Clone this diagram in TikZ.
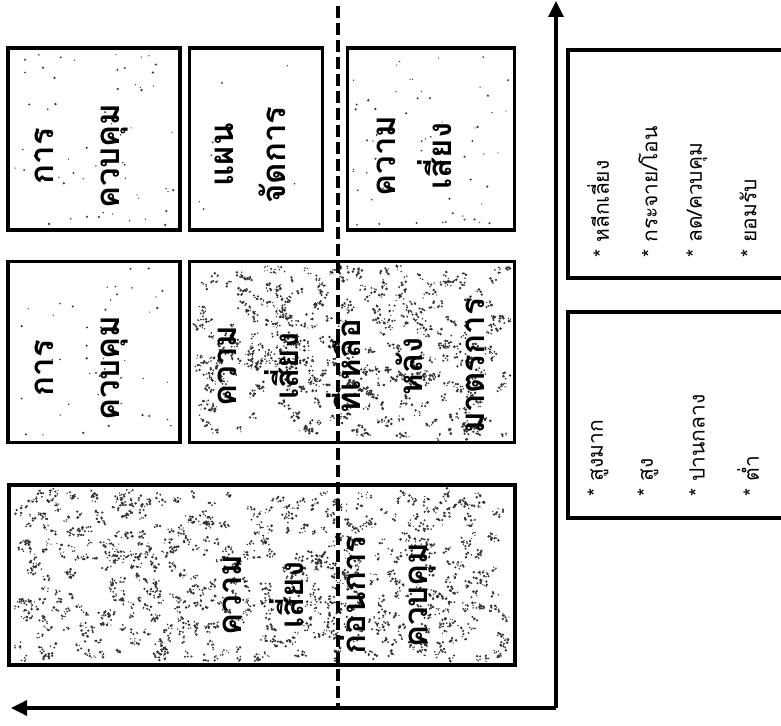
\documentclass[tikz,border=0pt]{standalone}
\usepackage{fontspec}
\newfontfamily\thai[Script=Thai]{Loma}
\usetikzlibrary{arrows.meta}
\begin{document}
\begin{tikzpicture}[x=1pt,y=-1pt,
  box/.style={draw, line width=3.4pt, inner sep=0pt},
  bigtext/.style={rotate=90, align=center, inner sep=0pt,
    font=\thai\bfseries\fontsize{33}{62}\selectfont},
  listtext/.style={rotate=90, anchor=west, inner sep=0pt,
    font=\thai\fontsize{21}{24}\selectfont},
  axis/.style={line width=3.2pt, -{Triangle[length=16pt,width=15pt]}},
  divider/.style={line width=3.4pt, dash pattern=on 12pt off 5pt},
  speck/.style={fill=black!80}
]
\useasboundingbox (0,0) rectangle (781,725);
\clip (0,0) rectangle (781,725);

% speckle texture (scan noise), drawn as small clumps
\pgfmathsetseed{11}
\foreach \i in {1,...,600}{
  \pgfmathsetmacro\px{16+492*rnd}\pgfmathsetmacro\py{491+168*rnd}
  \foreach \j in {1,...,5}{
    \fill[speck] (\px+7*rnd-3.5,\py+7*rnd-3.5) circle[radius={0.6+0.9*rnd}];}}
\foreach \i in {1,...,380}{
  \pgfmathsetmacro\px{196+312*rnd}\pgfmathsetmacro\py{268+169*rnd}
  \foreach \j in {1,...,5}{
    \fill[speck] (\px+7*rnd-3.5,\py+7*rnd-3.5) circle[radius={0.6+0.9*rnd}];}}
\foreach \i in {1,...,60}{
  \pgfmathsetmacro\px{14+161*rnd}\pgfmathsetmacro\py{54+171*rnd}
  \fill[speck] (\px,\py) circle[radius={0.6+0.7*rnd}];}
\foreach \i in {1,...,50}{
  \pgfmathsetmacro\px{14+161*rnd}\pgfmathsetmacro\py{267+171*rnd}
  \fill[speck] (\px,\py) circle[radius={0.6+0.7*rnd}];}
\foreach \i in {1,...,60}{
  \pgfmathsetmacro\px{353+157*rnd}\pgfmathsetmacro\py{54+171*rnd}
  \fill[speck] (\px,\py) circle[radius={0.6+0.7*rnd}];}
\foreach \i in {1,...,8}{
  \pgfmathsetmacro\px{195+123*rnd}\pgfmathsetmacro\py{54+171*rnd}
  \fill[speck] (\px,\py) circle[radius={0.6+0.5*rnd}];}

% boxes
\node[box, minimum width=172pt, minimum height=182pt] (A) at (94,139) {};
\node[box, minimum width=133pt, minimum height=182pt] (B) at (256,139) {};
\node[box, minimum width=167pt, minimum height=182pt] (C) at (431,139) {};
\node[box, minimum width=172pt, minimum height=181pt] (D) at (94,352) {};
\node[box, minimum width=325pt, minimum height=181pt] (E) at (352,352) {};
\node[box, minimum width=506pt, minimum height=180pt] (F) at (262,575) {};
\node[box, minimum width=240pt, minimum height=228pt] (R1) at (688,164) {};
\node[box, minimum width=240pt, minimum height=206pt] (R2) at (688,415) {};

% texts in boxes
\node[bigtext, font=\thai\bfseries\fontsize{33}{66}\selectfont] (tA) at (82,156) {การ\\ควบคุม};
\node[bigtext, font=\thai\bfseries\fontsize{33}{52}\selectfont] (tB) at (250,155) {แผน\\จัดการ};
\node[bigtext, font=\thai\bfseries\fontsize{33}{56}\selectfont] (tC) at (414,156) {ความ\\เสี่ยง};
\node[bigtext, font=\thai\bfseries\fontsize{33}{66}\selectfont] (tD) at (82,368) {การ\\ควบคุม};
\node[bigtext] (tE) at (351,366) {ความ\\เสี่ยง\\ที่เหลือ\\หลัง\\มาตรการ};
\node[bigtext] (tF) at (330,595) {ความ\\เสี่ยง\\ก่อนการ\\ควบคุม};

% lists
\node[listtext] (r1a) at (598,258) {* หลีกเลี่ยง};
\node[listtext] (r1b) at (648,258) {* กระจาย/โอน};
\node[listtext] (r1c) at (697,258) {* ลด/ควบคุม};
\node[listtext] (r1d) at (748,258) {* ยอมรับ};
\node[listtext] (r2a) at (598,497) {* สูงมาก};
\node[listtext] (r2b) at (648,497) {* สูง};
\node[listtext] (r2c) at (697,497) {* ปานกลาง};
\node[listtext] (r2d) at (748,497) {* ต่ำ};

% axes and divider
\coordinate (O) at (556,708);
\coordinate (Ytop) at (556,1);
\coordinate (Xleft) at (11,708);
\coordinate (Dtop) at (338,6);
\coordinate (Dbot) at (338,708);
\draw[divider] (Dtop) -- (Dbot);
\draw[axis] (O) -- (Ytop);
\draw[axis] (O) -- (Xleft);
\end{tikzpicture}
\end{document}
